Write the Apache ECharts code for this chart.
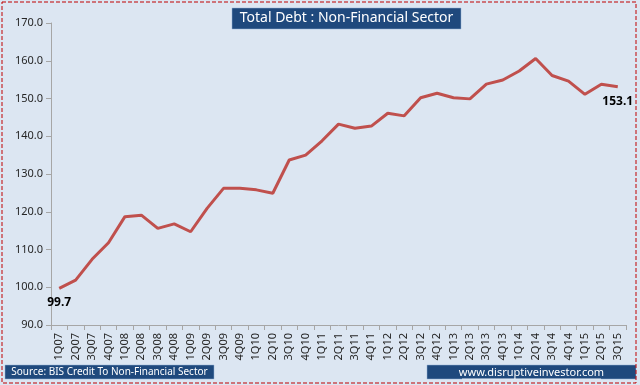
<!DOCTYPE html>
<html>
<head>
<meta charset="utf-8">
<script src="https://cdn.jsdelivr.net/npm/echarts@6/dist/echarts.min.js"></script>
<style>
html,body{margin:0;padding:0;background:#DCE6F2;}
#c{width:640px;height:385px;}
</style>
</head>
<body>
<div id="c"></div>
<script>
var categories = ["1Q07","2Q07","3Q07","4Q07","1Q08","2Q08","3Q08","4Q08","1Q09","2Q09","3Q09","4Q09","1Q10","2Q10","3Q10","4Q10","1Q11","2Q11","3Q11","4Q11","1Q12","2Q12","3Q12","4Q12","1Q13","2Q13","3Q13","4Q13","1Q14","2Q14","3Q14","4Q14","1Q15","2Q15","3Q15"];
var debtValues = [99.7,101.9,107.4,111.8,118.7,119.1,115.6,116.8,114.7,120.9,126.2,126.2,125.8,124.9,133.7,135.0,138.8,143.2,142.1,142.7,146.1,145.4,150.2,151.4,150.2,149.9,153.8,154.9,157.3,160.6,156.1,154.6,151.1,153.8,153.1];
var yMin = 90, yMax = 170, yStep = 10;
var titleText = "Total Debt : Non-Financial Sector";
var sourceText = "Source: BIS Credit To Non-Financial Sector";
var siteText = "www.disruptiveinvestor.com";

var chart = echarts.init(document.getElementById('c'), null, {renderer:'canvas'});
var font = '"Noto Sans", "Open Sans", sans-serif';
var lastIdx = debtValues.length - 1;
var seriesData = debtValues.map(function(v, i){
  if (i === 0) return {value: v, label: {show: true, offset: [4, 0]}};
  if (i === lastIdx) return {value: v, label: {show: true, offset: [1, 0]}};
  return {value: v, label: {show: false}};
});
chart.setOption({
  backgroundColor: '#DCE6F2',
  animation: false,
  grid: {left: 51, right: 14, top: 23, bottom: 60, containLabel: false},
  xAxis: {
    type: 'category',
    data: categories,
    boundaryGap: true,
    axisLine: {lineStyle: {color: '#A6A6A6', width: 1}},
    axisTick: {show: true, length: 5, lineStyle: {color: '#A6A6A6'}},
    axisLabel: {rotate: 90, interval: 0, fontSize: 11, color: '#262626', fontFamily: font, margin: 8}
  },
  yAxis: {
    type: 'value',
    min: yMin, max: yMax, interval: yStep,
    splitLine: {show: false},
    axisLine: {show: true, lineStyle: {color: '#A6A6A6', width: 1}},
    axisTick: {show: true, length: 5, lineStyle: {color: '#A6A6A6'}},
    axisLabel: {fontSize: 11, color: '#262626', fontFamily: font, margin: 8, formatter: function(v){return v.toFixed(1);}}
  },
  series: [{
    type: 'line',
    data: seriesData,
    showSymbol: true,
    showAllSymbol: true,
    symbol: 'circle',
    symbolSize: 1,
    lineStyle: {color: '#C0504D', width: 3},
    itemStyle: {color: 'rgba(192,80,77,0)', borderWidth: 0},
    label: {position: 'bottom', distance: 8, formatter: function(p){return Number(p.value).toFixed(1);}, fontWeight: 'bold', fontSize: 12, color: '#000', fontFamily: font},
    labelLayout: {hideOverlap: false}
  }],
  graphic: [
    {type: 'rect', shape: {x: 2, y: 2, width: 634, height: 381}, style: {fill: 'none', stroke: '#C00000', lineWidth: 1, lineDash: [4, 2]}, z: 100},
    {type: 'rect', shape: {x: 232, y: 8, width: 229, height: 21}, style: {fill: '#1F497D', stroke: '#95B3D7', lineWidth: 0.5}, z: 50},
    {type: 'text', x: 346.5, y: 18.5, style: {text: titleText, fill: '#FFFFFF', font: '14px ' + font, align: 'center', verticalAlign: 'middle'}, z: 51},
    {type: 'rect', shape: {x: 5, y: 365, width: 209, height: 14}, style: {fill: '#1F497D', stroke: '#95B3D7', lineWidth: 0.5}, z: 50},
    {type: 'text', x: 109.5, y: 372.5, style: {text: sourceText, fill: '#FFFFFF', font: '10px ' + font, align: 'center', verticalAlign: 'middle'}, z: 51},
    {type: 'rect', shape: {x: 427, y: 365, width: 209, height: 14}, style: {fill: '#1F497D', stroke: '#95B3D7', lineWidth: 0.5}, z: 50},
    {type: 'text', x: 531.5, y: 372.5, style: {text: siteText, fill: '#FFFFFF', font: '11px ' + font, align: 'center', verticalAlign: 'middle'}, z: 51},
    {type: 'line', shape: {x1: 462, y1: 379, x2: 601, y2: 379}, style: {stroke: '#FFFFFF', lineWidth: 0.8}, z: 51}
  ]
});
</script>
</body>
</html>
